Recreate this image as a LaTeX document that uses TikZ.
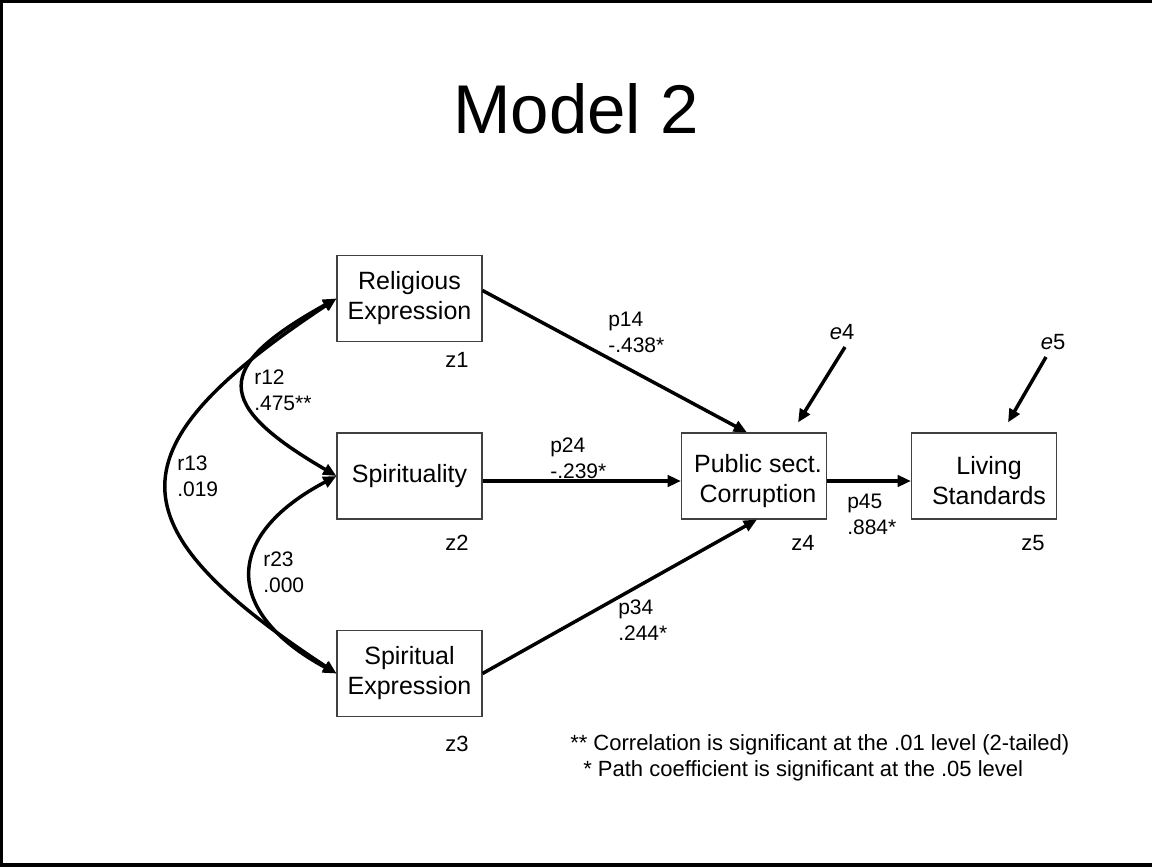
\documentclass[tikz,border=0pt]{standalone}
\usepackage{fontspec}
\setmainfont{Liberation Sans}
\usetikzlibrary{arrows.meta,calc}
\tikzset{
  varbox/.style={draw=black!75, line width=0.8pt, minimum width=108.75pt, minimum height=64.5pt,
                 inner sep=0pt, align=center, font=\fontsize{18.75}{22.5}\selectfont},
  boxtext/.style={inner sep=0pt, align=center, font=\fontsize{18.75}{22.5}\selectfont},
  coef/.style={align=left, anchor=west, inner sep=0pt, font=\fontsize{15.75}{19.5}\selectfont},
  zlab/.style={inner sep=0pt, font=\fontsize{16.5}{19.5}\selectfont},
  path/.style={line width=2.6pt, -{Triangle[length=10pt,width=8.5pt]}},
  corr/.style={line width=2.6pt, {Triangle[length=10pt,width=8.5pt]}-{Triangle[length=10pt,width=8.5pt]}},
  note/.style={anchor=base west, inner sep=0pt, font=\fontsize{16.5}{19.5}\selectfont}
}
\begin{document}
\begin{tikzpicture}[x=0.75pt,y=-0.75pt]
\useasboundingbox (0,0) rectangle (1152,867);
% frame (top, left and bottom edges)
\draw[line width=2.4pt] (1152,1.5) -- (1.8,1.5) -- (1.8,865) -- (1152,865);

% title
\node[font=\fontsize{51.75}{60}\selectfont, inner sep=0pt] (title) at (576,109) {Model 2};

% variables
\node[varbox] (b1) at (409.5,298.5) {Religious\\Expression};
\node[varbox] (b2) at (409.5,476) {Spirituality};
\node[varbox] (b3) at (409.5,673.5) {Spiritual\\Expression};
\node[varbox] (b4) at (754,476) {};
\node[boxtext] (b4t) at (758,481) {Public sect.\\Corruption};
\node[varbox] (b5) at (984,476) {};
\node[boxtext] (b5t) at (989,481) {Living\\Standards};

% variable indices
\node[zlab] (z1) at (457,360) {z1};
\node[zlab] (z2) at (457,543) {z2};
\node[zlab] (z3) at (457,744) {z3};
\node[zlab] (z4) at (803,543) {z4};
\node[zlab] (z5) at (1033,543) {z5};

% disturbance terms
\node[zlab] (e4) at (842,332) {\textit{e}4};
\node[zlab] (e5) at (1053,342) {\textit{e}5};
\coordinate (e4t) at (845,347);
\coordinate (e5t) at (1046,357);

% direct paths
\draw[path] ($(b1.east)+(0,-8)$) -- ($(b4.north)+(-7,0)$);
\draw[path] ($(b2.east)+(0,5)$) -- ($(b4.west)+(0,5)$);
\draw[path] (b3.east) -- ($(b4.south)+(3,0)$);
\draw[path] ($(b4.east)+(0,5)$) -- ($(b5.west)+(0,5)$);
\draw[path] (e4t) -- ($(b4.north east)+(-29,-10)$);
\draw[path] (e5t) -- ($(b5.north)+(24,-10)$);

% correlations
\draw[corr] (b1.west) .. controls (213,367) and (213,404) .. (b2.west);
\draw[corr] (b2.west) .. controls (223,536) and (223,612) .. (b3.west);
\draw[corr] (b1.west) .. controls (111,448) and (111,525) .. (b3.west);

% coefficients
\node[coef] (c14) at (608,332) {p14\\-.438*};
\node[coef] (c24) at (550,458) {p24\\-.239*};
\node[coef] (c34) at (618,620) {p34\\.244*};
\node[coef] (c45) at (847,514) {p45\\.884*};
\node[coef] (c12) at (254,390) {r12\\.475**};
\node[coef] (c23) at (263,572) {r23\\.000};
\node[coef] (c13) at (177,476) {r13\\.019};

% significance notes
\node[note] (n1) at (570,750) {** Correlation is significant at the .01 level (2-tailed)};
\node[note] (n2) at (583,776) {* Path coefficient is significant at the .05 level};
\end{tikzpicture}
\end{document}
